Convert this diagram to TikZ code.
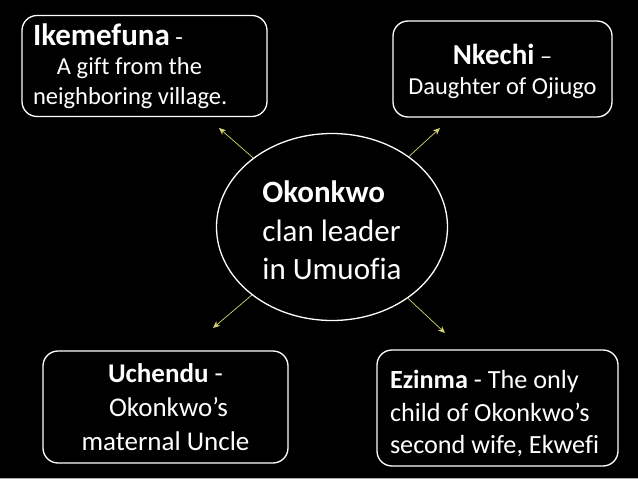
\documentclass[tikz,border=0pt]{standalone}
\usepackage{fontspec}
\setmainfont{Carlito}[Ligatures={NoCommon}]
\usetikzlibrary{arrows.meta, shapes.geometric}
\definecolor{arrowyellow}{RGB}{214,214,110}

\begin{document}
\begin{tikzpicture}[x=1pt, y=-1pt,
    box/.style={draw=white, line width=1.3pt, fill=black, rounded corners=15pt, text=white, inner sep=0pt},
    hub/.style={draw=white, line width=1.3pt, fill=black, ellipse, text=white, inner sep=0pt,
        minimum width=231pt, minimum height=187pt, align=flush left, font=\fontsize{31}{38.5}\selectfont},
    spoke/.style={draw=arrowyellow, line width=0.7pt, -{Stealth[length=7pt, width=6pt]}}]
    \useasboundingbox[fill=black] (0,0) rectangle (638,479);
    \draw[gray!70, line width=1pt] (0,478.5) -- (638,478.5);

    \node[hub] (okonkwo) at (332,227) {\rule{0pt}{29pt}\textbf{Okonkwo}\\clan leader\\in Umuofia};

    \node[box, minimum width=245pt, minimum height=101pt, text width=223pt, align=flush left,
        font=\fontsize{24.5}{29.5}\selectfont] (ikemefuna) at (144.5,66)
        {{\fontsize{31}{31}\selectfont\textbf{Ikemefuna}} -\\\hspace*{24pt}A gift from the\\neighboring village.};
    \node[box, minimum width=219pt, minimum height=96pt, align=center,
        font=\fontsize{24.4}{30}\selectfont] (nkechi) at (502.5,69)
        {\rule{0pt}{26pt}{\fontsize{29}{29}\selectfont\textbf{Nkechi}} --\\Daughter of Ojiugo};
    \node[box, minimum width=245pt, minimum height=112pt, align=center,
        font=\fontsize{27}{34}\selectfont] (uchendu) at (165.5,407)
        {\textbf{Uchendu} -\\\hspace*{6pt}Okonkwo’s\\maternal Uncle};
    \node[box, minimum width=241pt, minimum height=116pt, text width=215pt, align=flush left,
        font=\fontsize{26.2}{32.5}\selectfont] (ezinma) at (497.5,408)
        {\rule{0pt}{30pt}\textbf{Ezinma} - The only\\child of Okonkwo’s\\second wife, Ekwefi};

    % arrow tips
    \coordinate (tipNW) at (219,128);
    \coordinate (tipNE) at (440,128);
    \coordinate (tipSW) at (213,328);
    \coordinate (tipSE) at (445,333);

    \draw[spoke] (okonkwo) -- (tipNW);
    \draw[spoke] (okonkwo) -- (tipNE);
    \draw[spoke] (okonkwo) -- (tipSW);
    \draw[spoke] (okonkwo) -- (tipSE);
\end{tikzpicture}
\end{document}
